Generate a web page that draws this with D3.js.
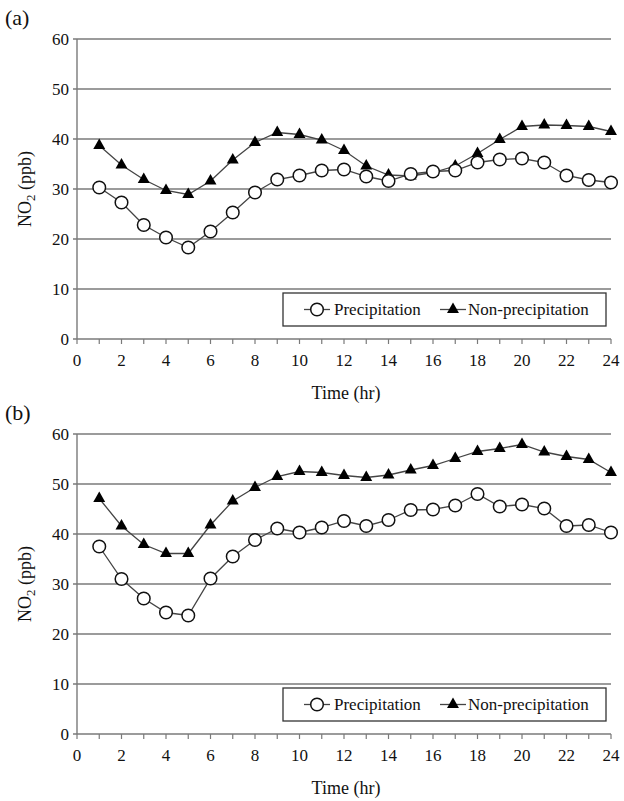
<!DOCTYPE html>
<html lang="en">
<head>
<meta charset="utf-8">
<title>NO2 diurnal variation</title>
<script src="https://d3js.org/d3.v7.min.js"></script>
<style>
  body{margin:0;background:#fff;}
</style>
</head>
<body>
<div id="chart"></div>
<script>
// hours of the day
var hours = d3.range(1, 25)
var yTicks = [0, 10, 20, 30, 40, 50, 60]
var xTickLabels = [0, 2, 4, 6, 8, 10, 12, 14, 16, 18, 20, 22, 24]
var seriesNames = ["Precipitation", "Non-precipitation"]

// panel (a)
var precipA = [30.3, 27.3, 22.8, 20.3, 18.3, 21.5, 25.3, 29.3, 31.9, 32.7, 33.7, 33.9,
               32.5, 31.6, 33.0, 33.5, 33.7, 35.3, 35.9, 36.1, 35.3, 32.7, 31.8, 31.3]
var nonPrecipA = [38.7, 34.8, 31.9, 29.7, 28.9, 31.6, 35.8, 39.3, 41.3, 40.9, 39.8, 37.7,
                  34.6, 32.8, 32.6, 33.3, 34.6, 37.1, 39.9, 42.5, 42.8, 42.7, 42.5, 41.5]
// panel (b)
var precipB = [37.5, 31.0, 27.1, 24.3, 23.7, 31.1, 35.5, 38.8, 41.1, 40.3, 41.3, 42.6,
               41.6, 42.8, 44.8, 44.9, 45.7, 48.0, 45.5, 45.9, 45.1, 41.6, 41.8, 40.3]
var nonPrecipB = [47.1, 41.6, 37.9, 36.1, 36.1, 41.8, 46.6, 49.3, 51.5, 52.5, 52.3, 51.7,
                  51.3, 51.8, 52.8, 53.7, 55.1, 56.5, 57.1, 57.9, 56.4, 55.5, 54.9, 52.3]

var W = 624, H = 801
var svg = d3.select("#chart").append("svg")
    .attr("width", W).attr("height", H)
    .attr("font-family", "'Liberation Serif', 'DejaVu Serif', serif")
    .attr("fill", "#111")

var gridColor = "#7a7a7a"
var lineColor = "#444"

var xScale = d3.scaleLinear().domain([0, 24]).range([77, 611])

drawPanel("(a)", precipA, nonPrecipA, 39)
drawPanel("(b)", precipB, nonPrecipB, 434)

function drawPanel(label, precip, nonPrecip, top) {
    var h = 300
    var yScale = d3.scaleLinear().domain([0, 60]).range([top + h, top])
    var g = svg.append("g")

    // panel letter
    g.append("text")
        .attr("x", 5).attr("y", top - 14)
        .attr("font-size", 22)
        .text(label)

    // gridlines + y ticks
    g.selectAll(".grid").data(yTicks).enter().append("line")
        .attr("x1", xScale(0) - 4).attr("x2", xScale(24))
        .attr("y1", function(d){ return yScale(d) })
        .attr("y2", function(d){ return yScale(d) })
        .attr("stroke", gridColor).attr("stroke-width", 1.4)

    g.selectAll(".ylab").data(yTicks).enter().append("text")
        .attr("x", xScale(0) - 8)
        .attr("y", function(d){ return yScale(d) + 5.5 })
        .attr("text-anchor", "end")
        .attr("font-size", 17)
        .text(function(d){ return d })

    // y axis line
    g.append("line")
        .attr("x1", xScale(0)).attr("x2", xScale(0))
        .attr("y1", yScale(0)).attr("y2", yScale(60))
        .attr("stroke", gridColor).attr("stroke-width", 1.4)

    // x ticks at every hour
    g.selectAll(".xtick").data(d3.range(0, 25)).enter().append("line")
        .attr("x1", function(d){ return xScale(d) })
        .attr("x2", function(d){ return xScale(d) })
        .attr("y1", yScale(0)).attr("y2", yScale(0) + 5)
        .attr("stroke", gridColor).attr("stroke-width", 1.2)

    g.selectAll(".xlab").data(xTickLabels).enter().append("text")
        .attr("x", function(d){ return xScale(d) })
        .attr("y", yScale(0) + 27)
        .attr("text-anchor", "middle")
        .attr("font-size", 17)
        .text(function(d){ return d })

    // axis titles
    g.append("text")
        .attr("x", (xScale(0) + xScale(24)) / 2 + 2)
        .attr("y", yScale(0) + 60)
        .attr("text-anchor", "middle")
        .attr("font-size", 18)
        .text("Time (hr)")

    var yt = g.append("text")
        .attr("transform", "translate(31," + (top + h / 2) + ") rotate(-90)")
        .attr("text-anchor", "middle")
        .attr("font-size", 18)
    yt.append("tspan").text("NO")
    yt.append("tspan").attr("dy", 4).attr("font-size", 13).text("2")
    yt.append("tspan").attr("dy", -4).text(" (ppb)")

    var line = d3.line()
        .x(function(d, i){ return xScale(hours[i]) })
        .y(function(d){ return yScale(d) })

    // non-precipitation line
    g.append("path").datum(nonPrecip)
        .attr("d", line).attr("fill", "none")
        .attr("stroke", lineColor).attr("stroke-width", 1.3)
    // precipitation line
    g.append("path").datum(precip)
        .attr("d", line).attr("fill", "none")
        .attr("stroke", lineColor).attr("stroke-width", 1.3)

    var tri = d3.symbol().type(d3.symbolTriangle).size(62)
    g.selectAll(".tri").data(nonPrecip).enter().append("path")
        .attr("d", tri)
        .attr("transform", function(d, i){
            return "translate(" + xScale(hours[i]) + "," + yScale(d) + ")" })
        .attr("fill", "#000")

    g.selectAll(".circ").data(precip).enter().append("circle")
        .attr("cx", function(d, i){ return xScale(hours[i]) })
        .attr("cy", function(d){ return yScale(d) })
        .attr("r", 6.3)
        .attr("fill", "#fff").attr("stroke", "#111").attr("stroke-width", 1.5)

    // legend
    var ly = yScale(0) - 46
    var leg = g.append("g")
    leg.append("rect")
        .attr("x", 283).attr("y", ly).attr("width", 323).attr("height", 33)
        .attr("fill", "#fff").attr("stroke", "#333").attr("stroke-width", 1.3)
    var cy = ly + 16.5
    leg.append("line").attr("x1", 304).attr("x2", 330)
        .attr("y1", cy).attr("y2", cy).attr("stroke", lineColor).attr("stroke-width", 1.3)
    leg.append("circle").attr("cx", 317).attr("cy", cy).attr("r", 6.3)
        .attr("fill", "#fff").attr("stroke", "#111").attr("stroke-width", 1.5)
    leg.append("text").attr("x", 334).attr("y", cy + 5.5)
        .attr("font-size", 17).text(seriesNames[0])
    leg.append("line").attr("x1", 440).attr("x2", 466)
        .attr("y1", cy).attr("y2", cy).attr("stroke", lineColor).attr("stroke-width", 1.3)
    leg.append("path").attr("d", tri)
        .attr("transform", "translate(453," + cy + ")").attr("fill", "#000")
    leg.append("text").attr("x", 468).attr("y", cy + 5.5)
        .attr("font-size", 17).text(seriesNames[1])
}
</script>
</body>
</html>
